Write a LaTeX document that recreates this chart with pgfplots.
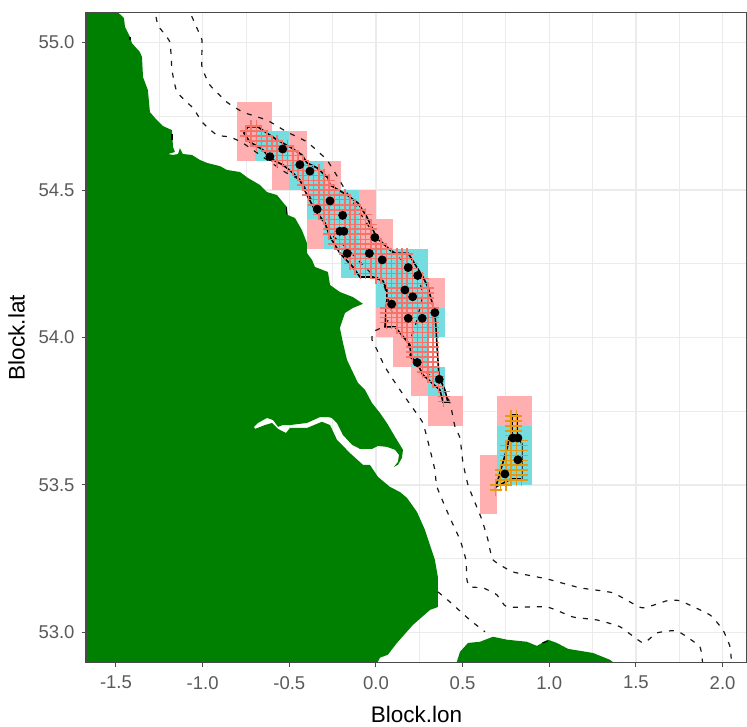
\documentclass[border=0pt]{standalone}
\usepackage{pgfplots}
\pgfplotsset{compat=1.18}
\usepackage{fontspec}
\setmainfont{Liberation Sans}
\definecolor{landg}{HTML}{008000}
\definecolor{pinkT}{HTML}{FFAFAF}
\definecolor{cyanT}{HTML}{75DDE0}
\definecolor{hatchR}{HTML}{F4746C}
\definecolor{hatchO}{HTML}{E69A10}
\definecolor{gridc}{HTML}{EBEBEB}
\definecolor{framec}{HTML}{4A4A4A}
\definecolor{tickt}{HTML}{5A5A5A}
\pgfplotsset{
 tp/.style={fill=pinkT,draw=none},
 tc/.style={fill=cyanT,draw=none},
 cont/.style={black!90,line width=0.6pt,dash pattern=on 2.5pt off 3.5pt,smooth,tension=0.25},
 hull/.style={black,line width=0.8pt},
}
\begin{document}
\begin{tikzpicture}
\path[use as bounding box] (-43pt,-31.65pt) rectangle (330.5pt,331.35pt);
\begin{axis}[
 at={(0,0)},anchor=south west,scale only axis,width=330.5pt,height=325.1pt,
 xmin=-1.673,xmax=2.141,ymin=52.897,ymax=55.102,
 xtick={-1.5,-1,-0.5,0,0.5,1,1.5,2},ytick={53,53.5,54,54.5,55},
 minor xtick={-1.25,-0.75,-0.25,0.25,0.75,1.25,1.75},
 minor ytick={53.25,53.75,54.25,54.75},
 grid=both,
 major grid style={gridc,line width=0.75pt},
 minor grid style={gridc,line width=0.45pt},
 tick align=outside,tick pos=left,
 major tick length=2.2pt,minor tick length=0pt,
 tick style={framec,line width=0.5pt},
 axis line style={framec,line width=0.6pt},
 xticklabel style={/pgf/number format/.cd,fixed,fixed zerofill,precision=1,assume math mode=true,/tikz/yshift=-1pt},
 yticklabel style={/pgf/number format/.cd,fixed,fixed zerofill,precision=1,assume math mode=true},
 tick label style={font=\fontsize{9.25pt}{11pt}\selectfont,text=tickt},
 xlabel={Block.lon},ylabel={Block.lat},
 xlabel style={yshift=-1.5pt},
 label style={font=\fontsize{11.25pt}{13pt}\selectfont,text=black},
]
% land
\addplot[fill=landg,draw=none] coordinates {
(-1.489,55.127)(-1.489,55.103)(-1.454,55.083)(-1.448,55.053)(-1.419,55.019)(-1.408,54.998)(-1.362,54.968)(-1.350,54.951)(-1.344,54.883)(-1.316,54.839)(-1.304,54.764)(-1.264,54.737)(-1.229,54.717)(-1.177,54.703)(-1.171,54.646)(-1.160,54.629)(-1.200,54.622)(-1.171,54.619)(-1.142,54.622)(-1.131,54.642)(-1.114,54.622)(-1.062,54.619)(-1.016,54.602)(-0.975,54.592)(-0.900,54.581)(-0.860,54.568)(-0.785,54.561)(-0.739,54.541)(-0.669,54.517)(-0.629,54.493)(-0.571,54.483)(-0.514,54.442)(-0.508,54.415)(-0.467,54.405)(-0.427,54.364)(-0.398,54.320)(-0.398,54.286)(-0.369,54.263)(-0.352,54.239)(-0.277,54.222)(-0.265,54.178)(-0.208,54.154)(-0.133,54.137)(-0.075,54.114)(-0.133,54.100)(-0.179,54.083)(-0.208,54.032)(-0.190,53.981)(-0.167,53.924)(-0.104,53.846)(-0.063,53.822)(-0.023,53.778)(0.023,53.744)(0.063,53.710)(0.110,53.663)(0.156,53.619)(0.150,53.592)(0.127,53.568)(0.104,53.561)(0.127,53.578)(0.133,53.602)(0.110,53.619)(0.063,53.629)(0.012,53.632)(-0.023,53.622)(-0.092,53.622)(-0.138,53.636)(-0.190,53.669)(-0.225,53.710)(-0.254,53.727)(-0.277,53.730)(-0.323,53.730)(-0.398,53.710)(-0.496,53.703)(-0.537,53.703)(-0.565,53.697)(-0.594,53.720)(-0.629,53.727)(-0.681,53.710)(-0.704,53.697)(-0.698,53.690)(-0.640,53.703)(-0.600,53.710)(-0.565,53.690)(-0.519,53.676)(-0.496,53.693)(-0.398,53.693)(-0.312,53.714)(-0.265,53.703)(-0.225,53.653)(-0.150,53.608)(-0.075,53.568)(-0.035,53.568)(0.012,53.527)(0.081,53.493)(0.138,53.476)(0.179,53.456)(0.237,53.408)(0.283,53.347)(0.340,53.246)(0.358,53.185)(0.358,53.086)(0.312,53.076)(0.213,53.025)(0.121,52.964)(0.069,52.924)(0.023,52.914)(-0.006,52.88)(-1.8,52.88)(-1.8,55.127)
} --cycle;
\addplot[fill=landg,draw=none] coordinates {
(0.456,52.88)(0.485,52.934)(0.531,52.964)(0.600,52.968)(0.675,52.985)(0.756,52.975)(0.871,52.968)(0.929,52.954)(0.992,52.975)(1.044,52.964)(1.108,52.944)(1.252,52.930)(1.350,52.907)(1.408,52.88)
} --cycle;
% tiles
\addplot[tp] coordinates {(-0.8,54.6)(-0.6,54.6)(-0.6,54.8)(-0.8,54.8)} --cycle;
\addplot[tp] coordinates {(-0.6,54.5)(-0.4,54.5)(-0.4,54.7)(-0.6,54.7)} --cycle;
\addplot[tp] coordinates {(-0.4,54.3)(-0.2,54.3)(-0.2,54.6)(-0.4,54.6)} --cycle;
\addplot[tp] coordinates {(-0.2,54.4)(0,54.4)(0,54.5)(-0.2,54.5)} --cycle;
\addplot[tp] coordinates {(-0.1,54.3)(0.1,54.3)(0.1,54.4)(-0.1,54.4)} --cycle;
\addplot[tp] coordinates {(0.3,54.1)(0.4,54.1)(0.4,54.2)(0.3,54.2)} --cycle;
\addplot[tp] coordinates {(0,54)(0.2,54)(0.2,54.1)(0,54.1)} --cycle;
\addplot[tp] coordinates {(0.1,53.9)(0.2,53.9)(0.2,54)(0.1,54)} --cycle;
\addplot[tp] coordinates {(0.2,53.8)(0.3,53.8)(0.3,53.9)(0.2,53.9)} --cycle;
\addplot[tp] coordinates {(0.3,53.7)(0.5,53.7)(0.5,53.8)(0.3,53.8)} --cycle;
\addplot[tp] coordinates {(0.7,53.7)(0.9,53.7)(0.9,53.8)(0.7,53.8)} --cycle;
\addplot[tp] coordinates {(0.6,53.4)(0.7,53.4)(0.7,53.6)(0.6,53.6)} --cycle;
\addplot[tc] coordinates {(-0.7,54.6)(-0.5,54.6)(-0.5,54.7)(-0.7,54.7)} --cycle;
\addplot[tc] coordinates {(-0.5,54.5)(-0.3,54.5)(-0.3,54.6)(-0.5,54.6)} --cycle;
\addplot[tc] coordinates {(-0.4,54.4)(-0.1,54.4)(-0.1,54.5)(-0.4,54.5)} --cycle;
\addplot[tc] coordinates {(-0.3,54.3)(-0.1,54.3)(-0.1,54.4)(-0.3,54.4)} --cycle;
\addplot[tc] coordinates {(-0.2,54.2)(0.3,54.2)(0.3,54.3)(-0.2,54.3)} --cycle;
\addplot[tc] coordinates {(0,54.1)(0.3,54.1)(0.3,54.2)(0,54.2)} --cycle;
\addplot[tc] coordinates {(0.2,54)(0.4,54)(0.4,54.1)(0.2,54.1)} --cycle;
\addplot[tc] coordinates {(0.2,53.9)(0.3,53.9)(0.3,54)(0.2,54)} --cycle;
\addplot[tc] coordinates {(0.3,53.8)(0.4,53.8)(0.4,53.9)(0.3,53.9)} --cycle;
\addplot[tc] coordinates {(0.7,53.5)(0.9,53.5)(0.9,53.7)(0.7,53.7)} --cycle;
% survey stations, main block
\addplot[only marks,mark=+,mark size=3pt,mark options={hatchR,line width=0.75pt}] coordinates {
(-0.72,54.717)(-0.69,54.717)
(-0.75,54.7)(-0.72,54.7)(-0.69,54.7)(-0.66,54.7)
(-0.75,54.683)(-0.72,54.683)(-0.69,54.683)(-0.66,54.683)(-0.63,54.683)
(-0.72,54.667)(-0.69,54.667)(-0.66,54.667)(-0.63,54.667)(-0.6,54.667)(-0.57,54.667)
(-0.69,54.65)(-0.66,54.65)(-0.63,54.65)(-0.6,54.65)(-0.57,54.65)(-0.54,54.65)(-0.51,54.65)
(-0.63,54.633)(-0.6,54.633)(-0.57,54.633)(-0.54,54.633)(-0.51,54.633)(-0.48,54.633)
(-0.6,54.617)(-0.57,54.617)(-0.54,54.617)(-0.51,54.617)(-0.48,54.617)(-0.45,54.617)
(-0.57,54.6)(-0.54,54.6)(-0.51,54.6)(-0.48,54.6)(-0.45,54.6)(-0.42,54.6)
(-0.51,54.583)(-0.48,54.583)(-0.45,54.583)(-0.42,54.583)(-0.39,54.583)
(-0.48,54.567)(-0.45,54.567)(-0.42,54.567)(-0.39,54.567)(-0.36,54.567)(-0.33,54.567)
(-0.45,54.55)(-0.42,54.55)(-0.39,54.55)(-0.36,54.55)(-0.33,54.55)(-0.3,54.55)
(-0.42,54.533)(-0.39,54.533)(-0.36,54.533)(-0.33,54.533)(-0.3,54.533)(-0.27,54.533)
(-0.42,54.517)(-0.39,54.517)(-0.36,54.517)(-0.33,54.517)(-0.3,54.517)(-0.27,54.517)
(-0.39,54.5)(-0.36,54.5)(-0.33,54.5)(-0.3,54.5)(-0.27,54.5)(-0.24,54.5)
(-0.39,54.483)(-0.36,54.483)(-0.33,54.483)(-0.3,54.483)(-0.27,54.483)(-0.24,54.483)(-0.21,54.483)(-0.18,54.483)
(-0.36,54.467)(-0.33,54.467)(-0.3,54.467)(-0.27,54.467)(-0.24,54.467)(-0.21,54.467)(-0.18,54.467)(-0.15,54.467)
(-0.36,54.45)(-0.33,54.45)(-0.3,54.45)(-0.27,54.45)(-0.24,54.45)(-0.21,54.45)(-0.18,54.45)(-0.15,54.45)(-0.12,54.45)
(-0.33,54.433)(-0.3,54.433)(-0.27,54.433)(-0.24,54.433)(-0.21,54.433)(-0.18,54.433)(-0.15,54.433)(-0.12,54.433)(-0.09,54.433)
(-0.33,54.417)(-0.3,54.417)(-0.27,54.417)(-0.24,54.417)(-0.21,54.417)(-0.18,54.417)(-0.15,54.417)(-0.12,54.417)(-0.09,54.417)(-0.06,54.417)
(-0.3,54.4)(-0.27,54.4)(-0.24,54.4)(-0.21,54.4)(-0.18,54.4)(-0.15,54.4)(-0.12,54.4)(-0.09,54.4)(-0.06,54.4)
(-0.27,54.383)(-0.24,54.383)(-0.21,54.383)(-0.18,54.383)(-0.15,54.383)(-0.12,54.383)(-0.09,54.383)(-0.06,54.383)(-0.03,54.383)
(-0.27,54.367)(-0.24,54.367)(-0.21,54.367)(-0.18,54.367)(-0.15,54.367)(-0.12,54.367)(-0.09,54.367)(-0.06,54.367)(-0.03,54.367)
(-0.27,54.35)(-0.24,54.35)(-0.21,54.35)(-0.18,54.35)(-0.15,54.35)(-0.12,54.35)(-0.09,54.35)(-0.06,54.35)(-0.03,54.35)
(-0.24,54.333)(-0.21,54.333)(-0.18,54.333)(-0.15,54.333)(-0.12,54.333)(-0.09,54.333)(-0.06,54.333)(-0.03,54.333)(0,54.333)
(-0.24,54.317)(-0.21,54.317)(-0.18,54.317)(-0.15,54.317)(-0.12,54.317)(-0.09,54.317)(-0.06,54.317)(-0.03,54.317)(0,54.317)(0.03,54.317)
(-0.21,54.3)(-0.18,54.3)(-0.15,54.3)(-0.12,54.3)(-0.09,54.3)(-0.06,54.3)(-0.03,54.3)(0,54.3)(0.03,54.3)(0.06,54.3)
(-0.18,54.283)(-0.15,54.283)(-0.12,54.283)(-0.09,54.283)(-0.06,54.283)(-0.03,54.283)(0,54.283)(0.03,54.283)(0.06,54.283)(0.09,54.283)(0.12,54.283)(0.15,54.283)(0.18,54.283)
(-0.15,54.267)(-0.12,54.267)(-0.09,54.267)(-0.06,54.267)(-0.03,54.267)(0,54.267)(0.03,54.267)(0.06,54.267)(0.09,54.267)(0.12,54.267)(0.15,54.267)(0.18,54.267)
(-0.15,54.25)(-0.12,54.25)(-0.09,54.25)(-0.06,54.25)(-0.03,54.25)(0,54.25)(0.03,54.25)(0.06,54.25)(0.09,54.25)(0.12,54.25)(0.15,54.25)(0.18,54.25)(0.21,54.25)
(-0.12,54.233)(-0.09,54.233)(-0.06,54.233)(-0.03,54.233)(0,54.233)(0.03,54.233)(0.06,54.233)(0.09,54.233)(0.12,54.233)(0.15,54.233)(0.18,54.233)(0.21,54.233)
(-0.09,54.217)(-0.06,54.217)(-0.03,54.217)(0,54.217)(0.03,54.217)(0.06,54.217)(0.09,54.217)(0.12,54.217)(0.15,54.217)(0.18,54.217)(0.21,54.217)(0.24,54.217)
(0,54.2)(0.03,54.2)(0.06,54.2)(0.09,54.2)(0.12,54.2)(0.15,54.2)(0.18,54.2)(0.21,54.2)(0.24,54.2)(0.27,54.2)
(0.06,54.183)(0.09,54.183)(0.12,54.183)(0.15,54.183)(0.18,54.183)(0.21,54.183)(0.24,54.183)(0.27,54.183)
(0.09,54.167)(0.12,54.167)(0.15,54.167)(0.18,54.167)(0.21,54.167)(0.24,54.167)(0.27,54.167)(0.3,54.167)
(0.09,54.15)(0.12,54.15)(0.15,54.15)(0.18,54.15)(0.21,54.15)(0.24,54.15)(0.27,54.15)(0.3,54.15)
(0.09,54.133)(0.12,54.133)(0.15,54.133)(0.18,54.133)(0.21,54.133)(0.24,54.133)(0.27,54.133)(0.3,54.133)
(0.09,54.117)(0.12,54.117)(0.15,54.117)(0.18,54.117)(0.21,54.117)(0.24,54.117)(0.27,54.117)(0.3,54.117)
(0.06,54.1)(0.09,54.1)(0.12,54.1)(0.15,54.1)(0.18,54.1)(0.21,54.1)(0.24,54.1)(0.27,54.1)(0.3,54.1)(0.33,54.1)
(0.06,54.083)(0.09,54.083)(0.12,54.083)(0.15,54.083)(0.18,54.083)(0.21,54.083)(0.24,54.083)(0.27,54.083)(0.3,54.083)(0.33,54.083)
(0.06,54.067)(0.09,54.067)(0.12,54.067)(0.15,54.067)(0.18,54.067)(0.21,54.067)(0.24,54.067)(0.27,54.067)(0.3,54.067)(0.33,54.067)
(0.06,54.05)(0.09,54.05)(0.12,54.05)(0.15,54.05)(0.18,54.05)(0.21,54.05)(0.24,54.05)(0.27,54.05)(0.3,54.05)(0.33,54.05)
(0.12,54.033)(0.15,54.033)(0.18,54.033)(0.21,54.033)(0.24,54.033)(0.27,54.033)(0.3,54.033)(0.33,54.033)
(0.15,54.017)(0.18,54.017)(0.21,54.017)(0.24,54.017)(0.27,54.017)(0.3,54.017)(0.33,54.017)
(0.18,54)(0.21,54)(0.24,54)(0.27,54)(0.3,54)(0.33,54)
(0.21,53.983)(0.24,53.983)(0.27,53.983)(0.3,53.983)(0.33,53.983)
(0.21,53.967)(0.24,53.967)(0.27,53.967)(0.3,53.967)(0.33,53.967)
(0.21,53.95)(0.24,53.95)(0.27,53.95)(0.3,53.95)(0.33,53.95)
(0.21,53.933)(0.24,53.933)(0.27,53.933)(0.3,53.933)(0.33,53.933)
(0.24,53.917)(0.27,53.917)(0.3,53.917)(0.33,53.917)
(0.27,53.9)(0.3,53.9)(0.33,53.9)
(0.27,53.883)(0.3,53.883)(0.33,53.883)
(0.3,53.867)(0.33,53.867)(0.36,53.867)
(0.33,53.85)(0.36,53.85)
(0.36,53.833)
(0.39,53.817)
(0.39,53.8)
(0.39,53.783)
};
% survey stations, eastern block
\addplot[only marks,mark=+,mark size=3pt,mark options={hatchO,line width=0.75pt}] coordinates {
(0.78,53.733)(0.81,53.733)(0.78,53.717)(0.81,53.717)(0.78,53.7)(0.81,53.7)(0.78,53.683)(0.81,53.683)
(0.78,53.667)(0.81,53.667)(0.78,53.65)(0.81,53.65)(0.84,53.65)
(0.75,53.633)(0.78,53.633)(0.81,53.633)(0.84,53.633)
(0.75,53.617)(0.78,53.617)(0.81,53.617)(0.84,53.617)
(0.75,53.6)(0.78,53.6)(0.81,53.6)(0.84,53.6)
(0.75,53.583)(0.78,53.583)(0.81,53.583)(0.84,53.583)
(0.75,53.567)(0.78,53.567)(0.81,53.567)(0.84,53.567)
(0.72,53.55)(0.75,53.55)(0.78,53.55)(0.81,53.55)(0.84,53.55)
(0.72,53.533)(0.75,53.533)(0.78,53.533)(0.81,53.533)(0.84,53.533)
(0.72,53.517)(0.75,53.517)(0.78,53.517)(0.81,53.517)(0.84,53.517)
(0.69,53.5)(0.72,53.5)(0.75,53.5)
(0.69,53.483)
};
% depth contours
\addplot[cont] coordinates {(-1.091,55.127)(-1.033,55.049)(-1.004,55.009)(-1.004,54.917)(-0.958,54.856)(-0.860,54.798)(-0.767,54.764)(-0.629,54.737)(-0.514,54.697)(-0.398,54.663)(-0.283,54.602)(-0.208,54.531)(-0.167,54.490)(-0.046,54.381)(-0.006,54.347)(0.110,54.280)(0.225,54.229)(0.265,54.161)(0.265,54.127)(0.225,54.036)(0.185,53.968)(0.208,53.924)(0.294,53.880)(0.369,53.846)(0.427,53.778)(0.456,53.697)(0.485,53.659)(0.502,53.575)(0.531,53.500)(0.565,53.449)(0.612,53.381)(0.646,53.314)(0.675,53.246)(0.790,53.205)(0.987,53.181)(1.177,53.151)(1.367,53.134)(1.535,53.083)(1.679,53.107)(1.754,53.107)(1.927,53.059)(2.002,53.008)(2.043,52.951)(2.054,52.88)};
\addplot[cont] coordinates {(-1.281,55.127)(-1.258,55.059)(-1.189,55.002)(-1.177,54.907)(-1.148,54.832)(-1.056,54.778)(-0.998,54.727)(-0.917,54.686)(-0.842,54.680)(-0.767,54.659)(-0.652,54.612)(-0.525,54.561)(-0.439,54.534)(-0.392,54.490)(-0.352,54.442)(-0.294,54.381)(-0.254,54.347)(-0.167,54.303)(-0.121,54.273)(-0.035,54.222)(0.040,54.185)(0.092,54.083)(0.040,54.036)(-0.017,54.019)(-0.023,53.992)(0.006,53.958)(0.052,53.900)(0.127,53.832)(0.208,53.764)(0.271,53.710)(0.312,53.619)(0.340,53.551)(0.352,53.493)(0.427,53.388)(0.485,53.314)(0.519,53.246)(0.525,53.178)(0.542,53.154)(0.617,53.151)(0.698,53.127)(0.756,53.086)(0.987,53.086)(1.137,53.052)(1.275,53.042)(1.408,53.019)(1.541,52.964)(1.621,52.998)(1.737,53.005)(1.869,52.951)(1.887,52.88)};
\addplot[cont] coordinates {(0.358,53.137)(0.427,53.103)(0.542,53.042)(0.629,53.002)};
\addplot[black,line width=0.6pt] coordinates {(0.96,52.964)(0.99,52.97)};
\addplot[black,line width=0.6pt] coordinates {(-1.419,55.019)(-1.419,55.01)};
\addplot[black,line width=0.6pt] coordinates {(-1.177,54.69)(-1.177,54.67)};
\addplot[black,line width=0.6pt] coordinates {(-0.514,54.442)(-0.514,54.42)};
% block outlines
\addplot[hull] coordinates {(-0.762,54.693)(-0.739,54.714)(-0.681,54.714)(-0.629,54.693)(-0.571,54.670)(-0.496,54.646)(-0.427,54.619)(-0.398,54.592)(-0.340,54.575)(-0.277,54.541)(-0.265,54.517)(-0.167,54.483)(-0.104,54.456)(-0.052,54.408)(0.006,54.337)(0.081,54.297)(0.110,54.286)(0.185,54.286)(0.271,54.205)(0.300,54.171)(0.340,54.083)(0.346,54.036)(0.352,53.975)(0.364,53.866)(0.398,53.822)(0.415,53.781)(0.387,53.781)(0.369,53.822)(0.271,53.873)(0.237,53.914)(0.202,53.934)(0.196,53.975)(0.110,54.036)(0.052,54.036)(0.063,54.127)(0.063,54.161)(0.040,54.192)(-0.017,54.205)(-0.092,54.205)(-0.133,54.239)(-0.208,54.286)(-0.265,54.341)(-0.294,54.388)(-0.352,54.432)(-0.398,54.483)(-0.439,54.534)(-0.485,54.561)(-0.537,54.585)(-0.612,54.608)(-0.652,54.636)(-0.727,54.663)} --cycle;
\addplot[hull] coordinates {(0.785,53.737)(0.814,53.737)(0.814,53.676)(0.842,53.639)(0.842,53.520)(0.779,53.520)(0.692,53.493)(0.762,53.636)(0.767,53.659)(0.785,53.676)} --cycle;
% positive hauls
\addplot[only marks,mark=*,mark size=2pt,mark options={black,draw=black}] coordinates {
(-0.538,54.639)(-0.612,54.613)(-0.439,54.586)(-0.381,54.564)(-0.265,54.463)(-0.339,54.435)(-0.192,54.414)(-0.208,54.36)(-0.185,54.36)(-0.166,54.285)(-0.038,54.285)(-0.006,54.339)(0.036,54.263)(0.186,54.237)(0.241,54.21)(0.167,54.161)(0.212,54.138)(0.091,54.113)(0.34,54.084)(0.186,54.065)(0.267,54.065)(0.238,53.915)(0.365,53.858)(0.79,53.659)(0.819,53.659)(0.819,53.585)(0.744,53.537)
};
\end{axis}
\draw[framec,line width=0.7pt] (0,0) rectangle (330.5pt,325.1pt);
\end{tikzpicture}
\end{document}
